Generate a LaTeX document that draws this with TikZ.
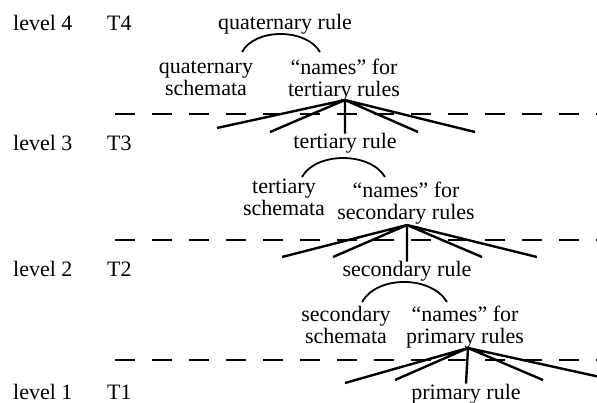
\documentclass[tikz,border=0pt]{standalone}
\usepackage{fontspec}
\setmainfont{Liberation Serif}
\begin{document}
\begin{tikzpicture}[x=1pt,y=-1pt,
  txt/.style={inner sep=0pt,anchor=base,font=\fontsize{22}{22}\selectfont},
  lbl/.style={txt,anchor=base west},
  two/.style={txt,align=center},
  fan/.style={line width=2.4pt},
  arcline/.style={line width=1.8pt},
  sep/.style={line width=2.6pt,dash pattern=on 20pt off 17pt}]
\useasboundingbox (0,0) rectangle (597,403);
% level labels
\node[lbl] (l4) at (13,31) {level 4};
\node[lbl] (t4) at (107,31) {T4};
\node[lbl] (l3) at (13,151) {level 3};
\node[lbl] (t3) at (107,151) {T3};
\node[lbl] (l2) at (13,277) {level 2};
\node[lbl] (t2) at (107,277) {T2};
\node[lbl] (l1) at (13,399) {level 1};
\node[lbl] (t1) at (107,399) {T1};
% separators
\coordinate (d3a) at (115,114); \coordinate (d3b) at (600,114);
\coordinate (d2a) at (115,240); \coordinate (d2b) at (600,240);
\coordinate (d1a) at (115,360); \coordinate (d1b) at (600,360);
\draw[sep] (d3a) -- (d3b);
\draw[sep] (d2a) -- (d2b);
\draw[sep] (d1a) -- (d1b);
% level 4
\node[txt] (qrule) at (285,30) {quaternary rule};
\node[two] (qsch) at (206,96) {quaternary\\schemata};
\node[two] (qnam) at (344,97) {“names” for\\tertiary rules};
\coordinate (qa) at (242,52); \coordinate (qb) at (320,52);
\draw[arcline] (qa) .. controls (255,28) and (306,28) .. (qb);
\coordinate (qx) at (345,100);
\coordinate (q1) at (217,128); \coordinate (q2) at (270,132);
\coordinate (q4) at (418,132); \coordinate (q5) at (475,132);
% level 3
\node[txt] (trule) at (345,149) {tertiary rule};
\draw[fan] (qx) -- (q1) (qx) -- (q2) (qx) -- (trule.north) (qx) -- (q4) (qx) -- (q5);
\node[two] (tsch) at (284,216) {tertiary\\schemata};
\node[two] (tnam) at (406,220) {“names” for\\secondary rules};
\coordinate (ta) at (302,177); \coordinate (tb) at (385,177);
\draw[arcline] (ta) .. controls (316,151.7) and (370,151.7) .. (tb);
\coordinate (tx) at (407,225);
\coordinate (t1e) at (282,257); \coordinate (t2e) at (333,257);
\coordinate (t4e) at (482,257); \coordinate (t5e) at (537,257);
% level 2
\node[txt] (srule) at (407,277) {secondary rule};
\draw[fan] (tx) -- (t1e) (tx) -- (t2e) (tx) -- (srule.north) (tx) -- (t4e) (tx) -- (t5e);
\node[two] (ssch) at (346,343) {secondary\\schemata};
\node[two] (snam) at (465,343) {“names” for\\primary rules};
\coordinate (sa) at (362,302); \coordinate (sb) at (447,302);
\draw[arcline] (sa) .. controls (377,275.3) and (431,275.3) .. (sb);
\coordinate (sx) at (468,348);
\coordinate (s1e) at (345,383); \coordinate (s2e) at (395,380);
\coordinate (s4e) at (543,380); \coordinate (s5e) at (600,377);
% level 1
\node[txt] (prule) at (466,399) {primary rule};
\draw[fan] (sx) -- (s1e) (sx) -- (s2e) (sx) -- (prule.north) (sx) -- (s4e) (sx) -- (s5e);
\end{tikzpicture}
\end{document}
